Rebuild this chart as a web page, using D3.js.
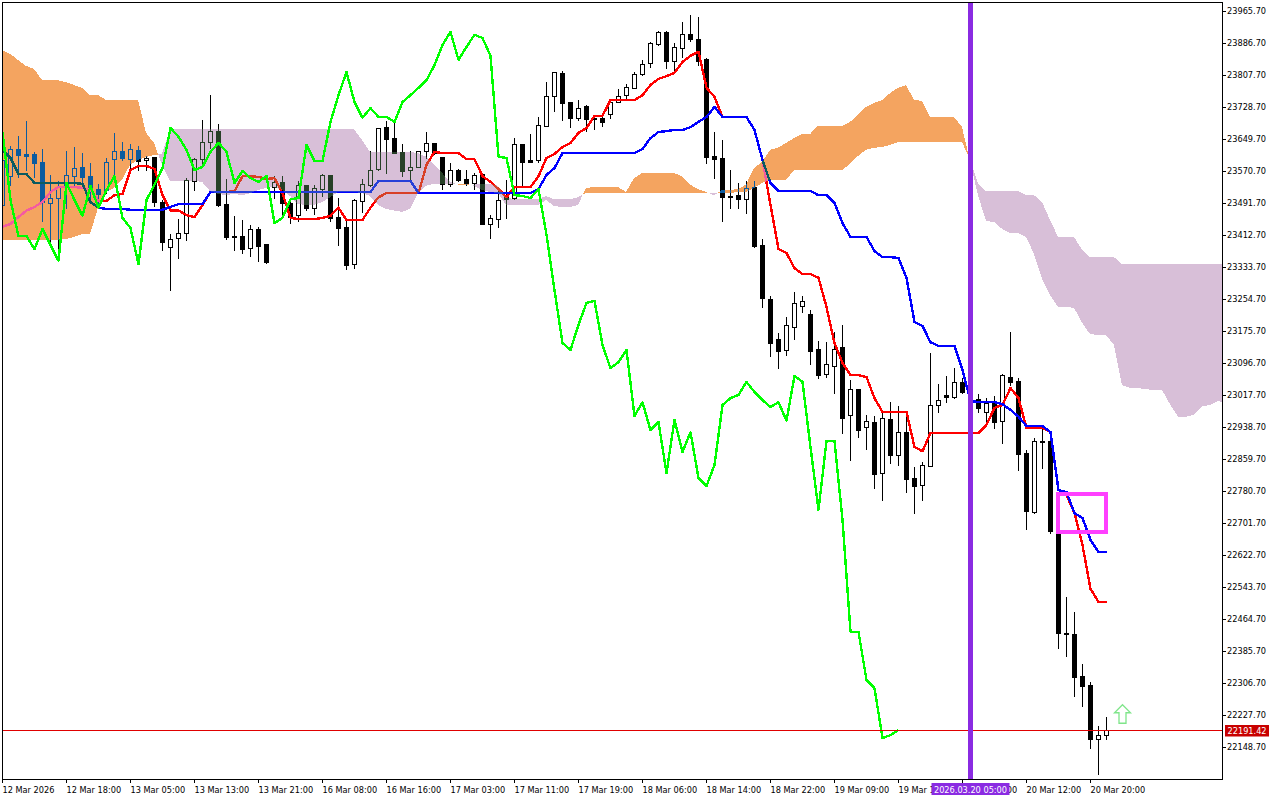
<!DOCTYPE html>
<html><head><meta charset="utf-8">
<script src="https://cdnjs.cloudflare.com/ajax/libs/d3/7.9.0/d3.min.js"></script>
<style>
html,body{margin:0;padding:0;background:#fff}
svg{display:block}
text{font-family:"DejaVu Sans",sans-serif;font-size:8.2px;fill:#000}
</style></head><body>
<svg id="c" width="1280" height="800"></svg>
<script>
const opens=[23487,23558,23625,23613,23613,23593,23492,23504,23537,23558,23581,23558,23526,23524,23600,23620,23600,23623,23598,23606,23494,23383,23405,23418,23546,23600,23642,23670,23489,23410,23410,23381,23428,23391,23531,23544,23492,23462,23537,23480,23526,23561,23457,23433,23341,23497,23537,23576,23679,23652,23618,23573,23581,23620,23640,23606,23539,23573,23551,23541,23563,23440,23452,23506,23504,23637,23598,23598,23682,23756,23813,23741,23702,23731,23702,23702,23712,23741,23758,23776,23810,23837,23884,23914,23842,23875,23909,23897,23847,23608,23603,23509,23511,23501,23531,23388,23255,23156,23129,23186,23237,23218,23131,23070,23089,23136,22969,23032,22939,22951,22825,22959,22870,22926,22813,22796,22843,22993,23018,23013,23050,23025,23008,22976,22998,22954,23062,23052,22875,22729,22904,22904,22677,22430,22428,22324,22302,22169,22178];
const closes=[23598,23625,23610,23608,23591,23494,23504,23531,23561,23578,23556,23524,23514,23593,23620,23603,23625,23595,23603,23494,23395,23403,23418,23549,23600,23642,23670,23487,23408,23408,23378,23428,23386,23346,23544,23492,23457,23537,23480,23529,23561,23455,23430,23339,23499,23539,23573,23677,23650,23615,23571,23581,23620,23640,23615,23539,23573,23549,23541,23561,23440,23455,23499,23501,23637,23593,23593,23684,23756,23815,23739,23702,23726,23699,23699,23692,23741,23756,23778,23810,23835,23887,23914,23842,23877,23909,23897,23842,23606,23600,23506,23506,23501,23529,23386,23257,23146,23126,23190,23245,23250,23126,23067,23094,23131,22961,23032,22931,22954,22823,22961,22870,22926,22810,22793,22845,22993,23005,23013,23050,23025,23008,22986,22998,22951,23067,23050,22872,22731,22904,22902,22682,22430,22428,22321,22299,22169,22178,22191];
const highs=[23623,23635,23660,23697,23620,23628,23563,23549,23623,23633,23618,23593,23541,23606,23667,23645,23640,23635,23611,23608,23501,23418,23455,23556,23606,23699,23761,23689,23553,23462,23452,23440,23435,23393,23561,23561,23499,23549,23537,23539,23566,23563,23506,23457,23504,23553,23623,23679,23697,23692,23640,23623,23623,23669,23642,23606,23593,23578,23576,23568,23566,23465,23531,23551,23655,23637,23665,23707,23793,23818,23820,23744,23749,23736,23704,23712,23751,23776,23788,23818,23847,23892,23919,23919,23889,23941,23958,23953,23852,23669,23650,23576,23544,23549,23549,23405,23264,23173,23213,23274,23264,23230,23154,23151,23176,23193,23057,23035,22971,22969,22976,23003,22993,22981,22843,22855,23124,23047,23067,23087,23062,23042,23023,23013,23018,23072,23176,23062,22885,22914,22936,22931,22682,22522,22485,22356,22312,22203,22225];
const lows=[23475,23536,23556,23573,23556,23447,23393,23371,23480,23534,23531,23494,23487,23516,23556,23598,23578,23573,23573,23484,23376,23277,23356,23400,23524,23581,23628,23484,23403,23376,23368,23361,23349,23344,23504,23457,23442,23447,23475,23465,23509,23447,23388,23329,23331,23470,23534,23573,23566,23615,23558,23549,23581,23603,23613,23526,23534,23546,23537,23526,23440,23405,23433,23455,23501,23531,23593,23593,23682,23719,23697,23679,23697,23669,23674,23682,23702,23741,23746,23776,23808,23827,23882,23825,23815,23852,23892,23832,23591,23553,23447,23480,23480,23467,23383,23235,23114,23084,23116,23156,23223,23094,23060,23062,23023,22924,22857,22914,22885,22788,22759,22850,22845,22778,22726,22759,22843,22976,23000,23010,23023,22993,22976,22951,22936,22899,23042,22833,22687,22726,22838,22677,22393,22373,22275,22250,22147,22082,22169];
const tenkan=[23433,23440,23457,23473,23482,23494,23519,23531,23531,23531,23529,23524,23497,23497,23511,23514,23573,23583,23583,23576,23511,23473,23473,23462,23457,23487,23519,23519,23519,23521,23558,23558,23556,23551,23553,23516,23455,23452,23452,23452,23455,23460,23480,23450,23450,23450,23480,23506,23516,23516,23516,23516,23516,23586,23618,23615,23615,23615,23600,23600,23558,23544,23526,23506,23531,23531,23531,23558,23603,23613,23630,23640,23665,23677,23707,23707,23746,23746,23746,23746,23758,23783,23798,23805,23813,23840,23855,23865,23776,23754,23704,23704,23704,23704,23672,23598,23487,23378,23368,23331,23316,23316,23307,23235,23146,23097,23067,23067,23062,23010,22976,22976,22976,22976,22889,22879,22924,22924,22924,22924,22924,22924,22924,22944,22986,22993,23035,23010,22936,22936,22936,22926,22783,22771,22726,22647,22539,22507,22507];
const kijun=[23623,23603,23563,23563,23541,23541,23541,23541,23541,23541,23539,23494,23480,23477,23477,23477,23475,23475,23475,23475,23475,23482,23489,23489,23489,23489,23519,23519,23519,23519,23519,23519,23519,23519,23519,23519,23519,23519,23519,23519,23519,23519,23519,23519,23519,23519,23519,23546,23546,23546,23546,23546,23516,23516,23516,23516,23516,23516,23516,23516,23516,23516,23516,23516,23516,23516,23516,23526,23561,23578,23615,23615,23615,23615,23615,23615,23615,23615,23615,23615,23625,23652,23667,23669,23672,23672,23679,23692,23704,23729,23704,23704,23704,23704,23672,23598,23541,23521,23521,23521,23521,23521,23511,23511,23492,23442,23408,23408,23408,23373,23358,23358,23356,23307,23198,23188,23148,23139,23139,23139,23079,23003,23000,23000,23000,22995,22981,22964,22941,22941,22941,22926,22783,22778,22726,22714,22660,22630,22630];
const chikou=[23667,23499,23410,23410,23378,23428,23388,23349,23541,23499,23460,23534,23480,23524,23558,23455,23430,23341,23499,23537,23578,23677,23655,23623,23573,23581,23618,23640,23618,23541,23571,23553,23544,23558,23442,23455,23501,23504,23635,23595,23595,23692,23758,23815,23741,23702,23726,23704,23704,23692,23741,23758,23776,23795,23832,23882,23914,23845,23877,23907,23899,23855,23606,23603,23511,23509,23504,23526,23413,23277,23146,23129,23191,23245,23250,23141,23084,23099,23129,22966,23000,22931,22951,22825,22956,22877,22926,22813,22793,22845,22993,23010,23018,23050,23025,23005,22988,23000,22954,23065,23050,22889,22734,22904,22904,22709,22433,22433,22314,22294,22171,22178,22191];
const spanA=[23870,23860,23845,23830,23823,23795,23795,23795,23790,23783,23776,23758,23758,23746,23746,23746,23746,23746,23665,23640,
23586,23546,23546,23546,23546,23544,23521,23514,23511,23514,23511,23516,23524,23529,23531,23524,23509,23489,23487,23487,23494,23506,23519,23519,23519,23516,23509,23487,23477,23473,23470,23477,23516,23534,23539,23539,23539,
23539,23539,
23534,23524,23519,23516,23487,23487,23487,23487,23487,23499,23484,23482,23482,23487,
23529,23531,23531,23531,23531,23519,23553,23566,23566,23566,23566,23566,23558,23537,23526,23519,
23511,
23524,23524,23526,23537,23578,23593,23623,23628,23640,23652,23662,23662,23682,23682,23682,23682,23692,23709,23729,23739,23746,23763,23776,23783,23746,23744,23704,23704,23704,23704,23679,
23595,23511,23447,23445,23428,23418,23418,23408,23366,23304,23264,23235,23235,23233,23196,23168,23166,23166,23141,23042,23035,23035,23032,23030,23030,22995,22964,22964,22969,22990,22993,23003,22998];
const spanB=[23400,23400,23400,23400,23400,23400,23400,23400,23403,23408,23415,23415,23480,23519,23529,23549,23586,23598,23605,23610,
23613,23674,23674,23674,23674,23674,23674,23674,23674,23674,23674,23674,23674,23674,23674,23674,23674,23674,23674,23674,23674,23674,23674,23674,23674,23647,23618,23618,23618,23618,23618,23618,23615,23606,23586,23566,23544,
23537,23537,
23537,23539,23539,23534,23506,23501,23501,23501,23501,23509,23501,23501,23501,23506,
23516,23516,23516,23516,23516,23516,23516,23516,23516,23516,23516,23516,23516,23516,23516,23516,
23516,
23516,23516,23519,23519,23529,23541,23549,23549,23549,23573,23573,23573,23573,23573,23573,23573,23588,23608,23623,23628,23630,23635,23642,23642,23642,23642,23642,23642,23642,23642,23642,
23598,23539,23521,23521,23521,23521,23521,23511,23511,23494,23450,23408,23408,23408,23376,23358,23358,23358,23358,23341,23341,23341,23341,23341,23341,23341,23341,23341,23341,23341,23341,23341,23341];
const priceTicks=[23965.70,23886.70,23807.70,23728.70,23649.70,23570.70,23491.70,23412.70,23333.70,23254.70,23175.70,23096.70,23017.70,22938.70,22859.70,22780.70,22701.70,22622.70,22543.70,22464.70,22385.70,22306.70,22227.70,22148.70];
const timeTickIdx=[0,8,16,24,32,40,48,56,64,72,80,88,96,104,112,120,128,136];
const timeTickLabels=["12 Mar 2026","12 Mar 18:00","13 Mar 05:00","13 Mar 13:00","13 Mar 21:00","16 Mar 08:00","16 Mar 16:00","17 Mar 03:00","17 Mar 11:00","17 Mar 19:00","18 Mar 06:00","18 Mar 14:00","18 Mar 22:00","19 Mar 09:00","19 Mar 17:00","20 Mar 04:00","20 Mar 12:00","20 Mar 20:00"];
const bidPrice=22191.42;
const markerIdx=121, markerLabel="2026.03.20 05:00";
const boxIdx=[132,138], boxPrice=[22773,22679];
const arrowIdx=140, arrowPrice=22253;

const L=2,R=1222,T=2,B=779;
const svg=d3.select("#c");
const x=d3.scaleLinear().domain([0,138]).range([2,1106]);
const y=d3.scaleLinear().domain([23965.70,22148.70]).range([11,747]);
svg.append("clipPath").attr("id","pl").append("rect").attr("x",L+1).attr("y",T+1).attr("width",R-L-1).attr("height",B-T-1);
const root=svg.append("g");
const plot=root.append("g").attr("clip-path","url(#pl)");
plot.append("rect").attr("width",1280).attr("height",800).attr("fill","#fff");
const px=v=>Math.round(x(v))+.5, py=v=>Math.round(y(v))+.5;

// candles
const cg=plot.append("g").attr("shape-rendering","crispEdges");
const idx=d3.range(opens.length);
cg.selectAll("line").data(idx).join("line")
 .attr("x1",px).attr("x2",px).attr("y1",i=>py(highs[i])).attr("y2",i=>py(lows[i])).attr("stroke","#000");
cg.selectAll("rect").data(idx).join("rect")
 .attr("x",i=>px(i)-2).attr("width",4)
 .attr("y",i=>py(Math.max(opens[i],closes[i])))
 .attr("height",i=>Math.max(0,py(Math.min(opens[i],closes[i]))-py(Math.max(opens[i],closes[i]))))
 .attr("fill",i=>closes[i]>=opens[i]?"#fff":"#000").attr("stroke","#000");

// tenkan, kijun
const ln=d3.line().x((d,i)=>x(i)+.5).y(d=>y(d));
const drawLine=(g,a,c)=>g.append("path").attr("d",ln(a)).attr("fill","none").attr("stroke",c).attr("stroke-width",2.4).attr("stroke-linejoin","round").attr("shape-rendering","crispEdges");
drawLine(plot,tenkan,"#ff0000");
drawLine(plot,kijun,"#0000ff");

// cloud: drawn with inverted colour in difference mode, so it inverts what lies under it
const runs=[];let cur=null;
const pts=spanA.map((a,i)=>({i,a,b:spanB[i]}));
pts.forEach((p,k)=>{
  const s=p.a>=p.b;
  if(!cur){cur={s,pts:[p]};runs.push(cur);return;}
  if(s===cur.s){cur.pts.push(p);return;}
  const q=pts[k-1],t=(q.a-q.b)/((q.a-q.b)-(p.a-p.b));
  const cross={i:q.i+t,a:q.a+(p.a-q.a)*t,b:q.a+(p.a-q.a)*t};
  cur.pts.push(cross);
  cur={s,pts:[cross,p]};runs.push(cur);
});
const ar=d3.area().x(d=>x(d.i)).y0(d=>y(d.a)).y1(d=>y(d.b));
runs.forEach(r=>{
  plot.append("path").attr("d",ar(r.pts))
   .attr("fill",r.s?"#0b5b9f":"#274027")
   .attr("shape-rendering","crispEdges")
   .style("mix-blend-mode","difference");
});

// chikou
drawLine(plot,chikou,"#00ff00");

// bid line
plot.append("line").attr("x1",L).attr("x2",R).attr("y1",py(bidPrice)).attr("y2",py(bidPrice)).attr("stroke","#e00000").attr("shape-rendering","crispEdges");

// rectangle object
plot.append("rect").attr("x",x(boxIdx[0])).attr("y",Math.round(y(boxPrice[0]))).attr("width",x(boxIdx[1])-x(boxIdx[0])).attr("height",Math.round(y(boxPrice[1])-y(boxPrice[0])))
 .attr("fill","none").attr("stroke","#ff40ff").attr("stroke-width",4).attr("shape-rendering","crispEdges");

// arrow object
const ax=x(arrowIdx)+.5, ay=y(arrowPrice);
plot.append("path").attr("d",`M${ax},${ay}L${ax+8},${ay+8}H${ax+3.5}V${ay+18.5}H${ax-3.5}V${ay+8}H${ax-8}Z`)
 .attr("fill","#fff").attr("stroke","#7fe58a").attr("stroke-width",1.3);

// vertical marker
plot.append("line").attr("x1",x(markerIdx)+.5).attr("x2",x(markerIdx)+.5).attr("y1",T).attr("y2",B).attr("stroke","#8a2be2").attr("stroke-width",5).attr("shape-rendering","crispEdges");

// frame
root.append("rect").attr("x",L+.5).attr("y",T+.5).attr("width",R-L).attr("height",B-T).attr("fill","none").attr("stroke","#000").attr("shape-rendering","crispEdges");

// axes
const ya=d3.axisRight(y).tickValues(priceTicks).tickFormat(d3.format(".2f")).tickSize(4).tickPadding(1);
const yg=root.append("g").attr("transform",`translate(${R},0)`).call(ya);
yg.select(".domain").remove();
yg.selectAll("line").attr("shape-rendering","crispEdges");
const xa=d3.axisBottom(x).tickValues(timeTickIdx).tickFormat((d,i)=>timeTickLabels[i]).tickSize(4).tickPadding(0);
const xg=root.append("g").attr("transform",`translate(0,${B})`).call(xa);
xg.select(".domain").remove();
xg.selectAll("line").attr("shape-rendering","crispEdges");
xg.selectAll("text").attr("text-anchor","start").attr("dy",null).attr("y",14);
xg.attr("font-family",null).attr("font-size",null);yg.attr("font-family",null).attr("font-size",null);

// bid label
const by=py(bidPrice);
root.append("rect").attr("x",1225).attr("y",by-5.5).attr("width",44).attr("height",11.5).attr("fill","#c80000");
root.append("text").attr("x",1227.5).attr("y",by+3.5).style("fill","#fff").text(d3.format(".2f")(bidPrice));

// time marker label
const mx=x(markerIdx)+.5;
root.append("rect").attr("x",mx-39).attr("y",B+4).attr("width",78).attr("height",12).attr("fill","#8a2be2");
root.append("text").attr("x",mx).attr("y",B+14).attr("text-anchor","middle").style("fill","#fff").text(markerLabel);
</script></body></html>
